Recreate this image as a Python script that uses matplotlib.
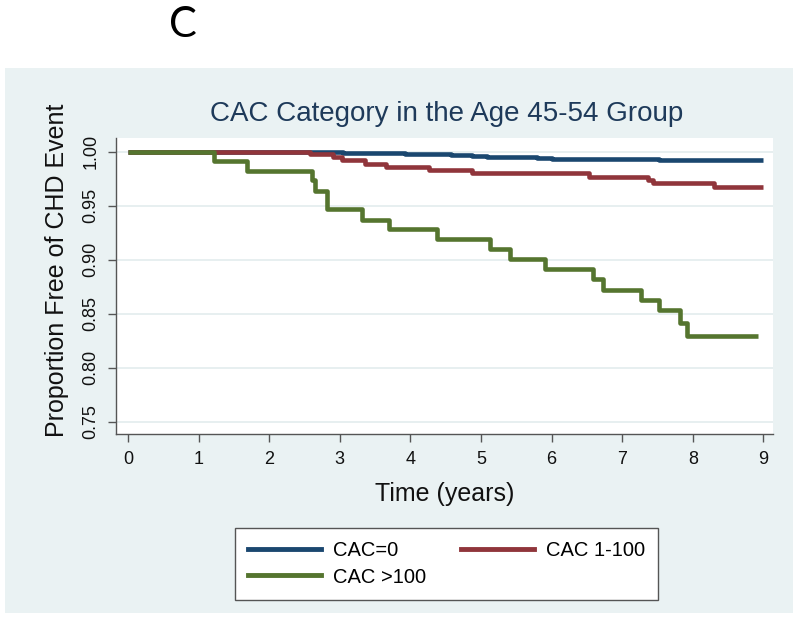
import matplotlib.pyplot as plt
from matplotlib.patches import Rectangle
from matplotlib.lines import Line2D

# Kaplan-Meier steps (time in years, proportion event-free)
cac0_t = [0, 3.05, 3.93, 4.57, 4.87, 5.09, 5.79, 6.00, 7.52, 9.0]
cac0_s = [1.0, 0.999, 0.998, 0.997, 0.996, 0.995, 0.994, 0.993, 0.992, 0.992]

cac1_t = [0, 2.58, 2.91, 3.03, 3.36, 3.65, 4.26, 4.87, 6.53, 7.36, 7.43, 8.30, 9.0]
cac1_s = [1.0, 0.998, 0.995, 0.992, 0.989, 0.986, 0.983, 0.980, 0.977, 0.974, 0.971, 0.967, 0.967]

cac100_t = [0, 1.22, 1.69, 2.60, 2.65, 2.82, 3.31, 3.69, 4.38, 5.13, 5.41, 5.91,
            6.58, 6.73, 7.26, 7.52, 7.82, 7.92, 8.93]
cac100_s = [1.0, 0.991, 0.982, 0.974, 0.964, 0.947, 0.937, 0.928, 0.919, 0.910, 0.901, 0.891,
            0.882, 0.872, 0.863, 0.853, 0.841, 0.829, 0.829]

labels = ['CAC=0', 'CAC 1-100', 'CAC >100']
x_ticks = list(range(10))
y_ticks = [0.75, 0.80, 0.85, 0.90, 0.95, 1.00]

navy = '#1a476f'
maroon = '#90353b'
green = '#55752f'
bg = '#eaf2f3'

plt.rcParams['font.family'] = ['Liberation Sans', 'DejaVu Sans']

W, H = 800, 618
fig = plt.figure(figsize=(W / 100, H / 100), dpi=100)
fig.patch.set_facecolor('white')

# Stata-like grey graph region
fig.patches.append(Rectangle((5 / W, 1 - 613 / H), 788 / W, 545 / H,
                             transform=fig.transFigure, facecolor=bg,
                             edgecolor='none', zorder=-5))

ax = fig.add_axes([116 / W, 1 - 434 / H, 657 / W, 296 / H])
ax.set_facecolor('white')

ax.step(cac0_t, cac0_s, where='post', color=navy, lw=3.3, solid_capstyle='butt')
ax.step(cac1_t, cac1_s, where='post', color=maroon, lw=3.3, solid_capstyle='butt')
ax.step(cac100_t, cac100_s, where='post', color=green, lw=3.3, solid_capstyle='butt')

ax.set_xlim(-0.17, 9.136)
ax.set_ylim(0.7386, 1.0127)
ax.set_xticks(x_ticks)
ax.set_yticks(y_ticks)
ax.set_yticklabels([f'{v:.2f}' for v in y_ticks], rotation=90, va='center')
ax.tick_params(axis='both', direction='out', length=6, width=1, color='#555555',
               labelsize=13, labelcolor='#111111', pad=6)
ax.grid(axis='y', color='#e3ecee', lw=1.2)
ax.set_axisbelow(True)

for side in ['top', 'right']:
    ax.spines[side].set_visible(False)
for side in ['left', 'bottom']:
    ax.spines[side].set_color('#555555')
    ax.spines[side].set_linewidth(1)

ax.set_xlabel('Time (years)', fontsize=18, color='#111111', labelpad=10)
ax.set_ylabel('Proportion Free of CHD Event', fontsize=18, color='#111111')
ax.yaxis.set_label_coords(-47 / 657, 0.554)

fig.text(447 / W, 1 - 114 / H, 'CAC Category in the Age 45-54 Group',
         ha='center', va='center', fontsize=20, color='#1e3a5a')

fig.text(183 / W, 1 - 25 / H, 'C', ha='center', va='center', fontsize=30,
         family=['Lato', 'DejaVu Sans'], color='black')

handles = [Line2D([], [], color=navy, lw=3.5),
           Line2D([], [], color=green, lw=3.5),
           Line2D([], [], color=maroon, lw=3.5)]
leg = fig.legend(handles, [labels[0], labels[2], labels[1]], ncol=2,
                 loc='center', bbox_to_anchor=(446.5 / W, 1 - 564 / H),
                 fontsize=14.5, frameon=True, fancybox=False, handlelength=3.6,
                 columnspacing=1.75, handletextpad=0.6, labelspacing=0.35,
                 borderpad=0.65, framealpha=1, facecolor='white')
leg.get_frame().set_edgecolor('#555555')
leg.get_frame().set_linewidth(1)

fig.savefig('out.png', dpi=100, facecolor='white')
